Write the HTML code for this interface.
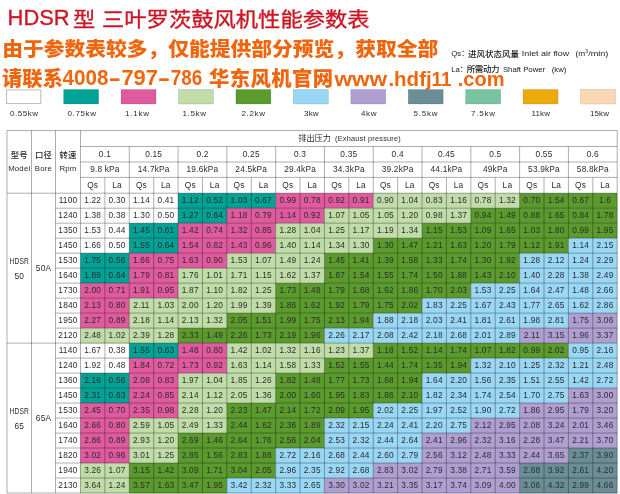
<!DOCTYPE html>
<html lang="zh-CN"><head><meta charset="utf-8"><title>HDSR 型 三叶罗茨鼓风机性能参数表</title>
<style>
html,body{margin:0;padding:0;background:#fff}
body{width:620px;height:494px;position:relative;overflow:hidden;font-family:"Liberation Sans","Noto Sans CJK SC",sans-serif}
svg{display:block}
</style></head><body>
<svg width="620" height="494" viewBox="0 0 620 494" style="position:absolute;left:0;top:0">
<g>
<rect x="178.08" y="193.2" width="97.58" height="15.29" fill="#00a295"/>
<rect x="275.66" y="193.2" width="97.58" height="15.29" fill="#df5a9e"/>
<rect x="373.25" y="193.2" width="146.37" height="15.29" fill="#c0dca8"/>
<rect x="519.62" y="193.2" width="97.58" height="15.29" fill="#5b9a2d"/>
<rect x="178.08" y="208.19" width="48.79" height="15.29" fill="#00a295"/>
<rect x="226.87" y="208.19" width="97.58" height="15.29" fill="#df5a9e"/>
<rect x="324.45" y="208.19" width="146.37" height="15.29" fill="#c0dca8"/>
<rect x="470.83" y="208.19" width="146.37" height="15.29" fill="#5b9a2d"/>
<rect x="129.29" y="223.18" width="48.79" height="15.29" fill="#00a295"/>
<rect x="178.08" y="223.18" width="97.58" height="15.29" fill="#df5a9e"/>
<rect x="275.66" y="223.18" width="146.37" height="15.29" fill="#c0dca8"/>
<rect x="422.04" y="223.18" width="195.16" height="15.29" fill="#5b9a2d"/>
<rect x="129.29" y="238.17" width="48.79" height="15.29" fill="#00a295"/>
<rect x="178.08" y="238.17" width="97.58" height="15.29" fill="#df5a9e"/>
<rect x="275.66" y="238.17" width="97.58" height="15.29" fill="#c0dca8"/>
<rect x="373.25" y="238.17" width="195.16" height="15.29" fill="#5b9a2d"/>
<rect x="568.41" y="238.17" width="48.79" height="15.29" fill="#9ad7f5"/>
<rect x="80.5" y="253.16" width="48.79" height="15.29" fill="#00a295"/>
<rect x="129.29" y="253.16" width="97.58" height="15.29" fill="#df5a9e"/>
<rect x="226.87" y="253.16" width="97.58" height="15.29" fill="#c0dca8"/>
<rect x="324.45" y="253.16" width="195.16" height="15.29" fill="#5b9a2d"/>
<rect x="519.62" y="253.16" width="97.58" height="15.29" fill="#9ad7f5"/>
<rect x="80.5" y="268.15" width="48.79" height="15.29" fill="#00a295"/>
<rect x="129.29" y="268.15" width="48.79" height="15.29" fill="#df5a9e"/>
<rect x="178.08" y="268.15" width="146.37" height="15.29" fill="#c0dca8"/>
<rect x="324.45" y="268.15" width="195.16" height="15.29" fill="#5b9a2d"/>
<rect x="519.62" y="268.15" width="97.58" height="15.29" fill="#9ad7f5"/>
<rect x="80.5" y="283.14" width="97.58" height="15.29" fill="#df5a9e"/>
<rect x="178.08" y="283.14" width="97.58" height="15.29" fill="#c0dca8"/>
<rect x="275.66" y="283.14" width="195.16" height="15.29" fill="#5b9a2d"/>
<rect x="470.83" y="283.14" width="146.37" height="15.29" fill="#9ad7f5"/>
<rect x="80.5" y="298.13" width="48.79" height="15.29" fill="#df5a9e"/>
<rect x="129.29" y="298.13" width="146.37" height="15.29" fill="#c0dca8"/>
<rect x="275.66" y="298.13" width="146.37" height="15.29" fill="#5b9a2d"/>
<rect x="422.04" y="298.13" width="195.16" height="15.29" fill="#9ad7f5"/>
<rect x="80.5" y="313.12" width="48.79" height="15.29" fill="#df5a9e"/>
<rect x="129.29" y="313.12" width="97.58" height="15.29" fill="#c0dca8"/>
<rect x="226.87" y="313.12" width="146.37" height="15.29" fill="#5b9a2d"/>
<rect x="373.25" y="313.12" width="195.16" height="15.29" fill="#9ad7f5"/>
<rect x="568.41" y="313.12" width="48.79" height="15.29" fill="#af9fd1"/>
<rect x="80.5" y="328.11" width="97.58" height="15.29" fill="#c0dca8"/>
<rect x="178.08" y="328.11" width="146.37" height="15.29" fill="#5b9a2d"/>
<rect x="324.45" y="328.11" width="195.16" height="15.29" fill="#9ad7f5"/>
<rect x="519.62" y="328.11" width="97.58" height="15.29" fill="#af9fd1"/>
<rect x="129.29" y="343.1" width="48.79" height="15.29" fill="#00a295"/>
<rect x="178.08" y="343.1" width="48.79" height="15.29" fill="#df5a9e"/>
<rect x="226.87" y="343.1" width="146.37" height="15.29" fill="#c0dca8"/>
<rect x="373.25" y="343.1" width="195.16" height="15.29" fill="#5b9a2d"/>
<rect x="568.41" y="343.1" width="48.79" height="15.29" fill="#9ad7f5"/>
<rect x="129.29" y="358.09" width="97.58" height="15.29" fill="#df5a9e"/>
<rect x="226.87" y="358.09" width="97.58" height="15.29" fill="#c0dca8"/>
<rect x="324.45" y="358.09" width="146.37" height="15.29" fill="#5b9a2d"/>
<rect x="470.83" y="358.09" width="146.37" height="15.29" fill="#9ad7f5"/>
<rect x="80.5" y="373.08" width="48.79" height="15.29" fill="#00a295"/>
<rect x="129.29" y="373.08" width="48.79" height="15.29" fill="#df5a9e"/>
<rect x="178.08" y="373.08" width="97.58" height="15.29" fill="#c0dca8"/>
<rect x="275.66" y="373.08" width="146.37" height="15.29" fill="#5b9a2d"/>
<rect x="422.04" y="373.08" width="195.16" height="15.29" fill="#9ad7f5"/>
<rect x="80.5" y="388.07" width="48.79" height="15.29" fill="#00a295"/>
<rect x="129.29" y="388.07" width="48.79" height="15.29" fill="#df5a9e"/>
<rect x="178.08" y="388.07" width="97.58" height="15.29" fill="#c0dca8"/>
<rect x="275.66" y="388.07" width="146.37" height="15.29" fill="#5b9a2d"/>
<rect x="422.04" y="388.07" width="146.37" height="15.29" fill="#9ad7f5"/>
<rect x="568.41" y="388.07" width="48.79" height="15.29" fill="#af9fd1"/>
<rect x="80.5" y="403.06" width="97.58" height="15.29" fill="#df5a9e"/>
<rect x="178.08" y="403.06" width="48.79" height="15.29" fill="#c0dca8"/>
<rect x="226.87" y="403.06" width="146.37" height="15.29" fill="#5b9a2d"/>
<rect x="373.25" y="403.06" width="146.37" height="15.29" fill="#9ad7f5"/>
<rect x="519.62" y="403.06" width="97.58" height="15.29" fill="#af9fd1"/>
<rect x="80.5" y="418.05" width="48.79" height="15.29" fill="#df5a9e"/>
<rect x="129.29" y="418.05" width="97.58" height="15.29" fill="#c0dca8"/>
<rect x="226.87" y="418.05" width="97.58" height="15.29" fill="#5b9a2d"/>
<rect x="324.45" y="418.05" width="146.37" height="15.29" fill="#9ad7f5"/>
<rect x="470.83" y="418.05" width="146.37" height="15.29" fill="#af9fd1"/>
<rect x="80.5" y="433.04" width="48.79" height="15.29" fill="#df5a9e"/>
<rect x="129.29" y="433.04" width="48.79" height="15.29" fill="#c0dca8"/>
<rect x="178.08" y="433.04" width="146.37" height="15.29" fill="#5b9a2d"/>
<rect x="324.45" y="433.04" width="97.58" height="15.29" fill="#9ad7f5"/>
<rect x="422.04" y="433.04" width="195.16" height="15.29" fill="#af9fd1"/>
<rect x="80.5" y="448.03" width="48.79" height="15.29" fill="#df5a9e"/>
<rect x="129.29" y="448.03" width="48.79" height="15.29" fill="#c0dca8"/>
<rect x="178.08" y="448.03" width="97.58" height="15.29" fill="#5b9a2d"/>
<rect x="275.66" y="448.03" width="146.37" height="15.29" fill="#9ad7f5"/>
<rect x="422.04" y="448.03" width="146.37" height="15.29" fill="#af9fd1"/>
<rect x="568.41" y="448.03" width="48.79" height="15.29" fill="#6b8d96"/>
<rect x="80.5" y="463.02" width="48.79" height="15.29" fill="#c0dca8"/>
<rect x="129.29" y="463.02" width="146.37" height="15.29" fill="#5b9a2d"/>
<rect x="275.66" y="463.02" width="97.58" height="15.29" fill="#9ad7f5"/>
<rect x="373.25" y="463.02" width="146.37" height="15.29" fill="#af9fd1"/>
<rect x="519.62" y="463.02" width="97.58" height="15.29" fill="#6b8d96"/>
<rect x="80.5" y="478.01" width="48.79" height="15.29" fill="#c0dca8"/>
<rect x="129.29" y="478.01" width="97.58" height="15.29" fill="#5b9a2d"/>
<rect x="226.87" y="478.01" width="97.58" height="15.29" fill="#9ad7f5"/>
<rect x="324.45" y="478.01" width="195.16" height="15.29" fill="#af9fd1"/>
<rect x="519.62" y="478.01" width="97.58" height="15.29" fill="#6b8d96"/>
</g>
<g stroke="#000" stroke-width="0.8" stroke-opacity="0.4" fill="none">
<path d="M7 130.5L617.2 130.5"/>
<path d="M7 493L617.2 493"/>
<path d="M7 130.5L7 493"/>
<path d="M617.2 130.5L617.2 493"/>
<path d="M31.5 130.5L31.5 493"/>
<path d="M55.5 130.5L55.5 493"/>
<path d="M80.5 130.5L80.5 493"/>
<path d="M80.5 146.5L617.2 146.5"/>
<path d="M80.5 162L617.2 162"/>
<path d="M80.5 177.4L617.2 177.4"/>
<path d="M7 193.2L617.2 193.2"/>
<path d="M129.29 146.5L129.29 493"/>
<path d="M178.08 146.5L178.08 493"/>
<path d="M226.87 146.5L226.87 493"/>
<path d="M275.66 146.5L275.66 493"/>
<path d="M324.45 146.5L324.45 493"/>
<path d="M373.25 146.5L373.25 493"/>
<path d="M422.04 146.5L422.04 493"/>
<path d="M470.83 146.5L470.83 493"/>
<path d="M519.62 146.5L519.62 493"/>
<path d="M568.41 146.5L568.41 493"/>
<path d="M104.9 177.4L104.9 493"/>
<path d="M153.69 177.4L153.69 493"/>
<path d="M202.48 177.4L202.48 493"/>
<path d="M251.27 177.4L251.27 493"/>
<path d="M300.06 177.4L300.06 493"/>
<path d="M348.85 177.4L348.85 493"/>
<path d="M397.64 177.4L397.64 493"/>
<path d="M446.43 177.4L446.43 493"/>
<path d="M495.22 177.4L495.22 493"/>
<path d="M544.01 177.4L544.01 493"/>
<path d="M592.8 177.4L592.8 493"/>
<path d="M55.5 208.19L617.2 208.19"/>
<path d="M55.5 223.18L617.2 223.18"/>
<path d="M55.5 238.17L617.2 238.17"/>
<path d="M55.5 253.16L617.2 253.16"/>
<path d="M55.5 268.15L617.2 268.15"/>
<path d="M55.5 283.14L617.2 283.14"/>
<path d="M55.5 298.13L617.2 298.13"/>
<path d="M55.5 313.12L617.2 313.12"/>
<path d="M55.5 328.11L617.2 328.11"/>
<path d="M7 343.1L617.2 343.1"/>
<path d="M55.5 358.09L617.2 358.09"/>
<path d="M55.5 373.08L617.2 373.08"/>
<path d="M55.5 388.07L617.2 388.07"/>
<path d="M55.5 403.06L617.2 403.06"/>
<path d="M55.5 418.05L617.2 418.05"/>
<path d="M55.5 433.04L617.2 433.04"/>
<path d="M55.5 448.03L617.2 448.03"/>
<path d="M55.5 463.02L617.2 463.02"/>
<path d="M55.5 478.01L617.2 478.01"/>
</g>
<g font-family="Liberation Sans, Noto Sans CJK SC, sans-serif" font-size="8.3" fill="#2b2b2b" text-anchor="middle" letter-spacing="0.2">
<text x="68" y="203.34">1100</text>
<text x="92.7" y="203.34">1.22</text>
<text x="117.09" y="203.34">0.30</text>
<text x="141.49" y="203.34">1.14</text>
<text x="165.88" y="203.34">0.41</text>
<text x="190.28" y="203.34">1.12</text>
<text x="214.68" y="203.34">0.52</text>
<text x="239.07" y="203.34">1.03</text>
<text x="263.47" y="203.34">0.67</text>
<text x="287.86" y="203.34">0.99</text>
<text x="312.26" y="203.34">0.78</text>
<text x="336.65" y="203.34">0.92</text>
<text x="361.05" y="203.34">0.91</text>
<text x="385.44" y="203.34">0.90</text>
<text x="409.84" y="203.34">1.04</text>
<text x="434.23" y="203.34">0.83</text>
<text x="458.63" y="203.34">1.16</text>
<text x="483.03" y="203.34">0.78</text>
<text x="507.42" y="203.34">1.32</text>
<text x="531.82" y="203.34">0.70</text>
<text x="556.21" y="203.34">1.54</text>
<text x="580.61" y="203.34">0.67</text>
<text x="605" y="203.34">1.6</text>
<text x="68" y="218.34">1240</text>
<text x="92.7" y="218.34">1.38</text>
<text x="117.09" y="218.34">0.38</text>
<text x="141.49" y="218.34">1.30</text>
<text x="165.88" y="218.34">0.50</text>
<text x="190.28" y="218.34">1.27</text>
<text x="214.68" y="218.34">0.64</text>
<text x="239.07" y="218.34">1.18</text>
<text x="263.47" y="218.34">0.79</text>
<text x="287.86" y="218.34">1.14</text>
<text x="312.26" y="218.34">0.92</text>
<text x="336.65" y="218.34">1.07</text>
<text x="361.05" y="218.34">1.05</text>
<text x="385.44" y="218.34">1.05</text>
<text x="409.84" y="218.34">1.20</text>
<text x="434.23" y="218.34">0.98</text>
<text x="458.63" y="218.34">1.37</text>
<text x="483.03" y="218.34">0.94</text>
<text x="507.42" y="218.34">1.49</text>
<text x="531.82" y="218.34">0.88</text>
<text x="556.21" y="218.34">1.65</text>
<text x="580.61" y="218.34">0.84</text>
<text x="605" y="218.34">1.78</text>
<text x="68" y="233.32">1350</text>
<text x="92.7" y="233.32">1.53</text>
<text x="117.09" y="233.32">0.44</text>
<text x="141.49" y="233.32">1.45</text>
<text x="165.88" y="233.32">0.61</text>
<text x="190.28" y="233.32">1.42</text>
<text x="214.68" y="233.32">0.74</text>
<text x="239.07" y="233.32">1.32</text>
<text x="263.47" y="233.32">0.85</text>
<text x="287.86" y="233.32">1.28</text>
<text x="312.26" y="233.32">1.04</text>
<text x="336.65" y="233.32">1.25</text>
<text x="361.05" y="233.32">1.17</text>
<text x="385.44" y="233.32">1.19</text>
<text x="409.84" y="233.32">1.34</text>
<text x="434.23" y="233.32">1.15</text>
<text x="458.63" y="233.32">1.53</text>
<text x="483.03" y="233.32">1.09</text>
<text x="507.42" y="233.32">1.65</text>
<text x="531.82" y="233.32">1.03</text>
<text x="556.21" y="233.32">1.80</text>
<text x="580.61" y="233.32">0.99</text>
<text x="605" y="233.32">1.95</text>
<text x="68" y="248.31">1450</text>
<text x="92.7" y="248.31">1.66</text>
<text x="117.09" y="248.31">0.50</text>
<text x="141.49" y="248.31">1.55</text>
<text x="165.88" y="248.31">0.64</text>
<text x="190.28" y="248.31">1.54</text>
<text x="214.68" y="248.31">0.82</text>
<text x="239.07" y="248.31">1.43</text>
<text x="263.47" y="248.31">0.96</text>
<text x="287.86" y="248.31">1.40</text>
<text x="312.26" y="248.31">1.14</text>
<text x="336.65" y="248.31">1.34</text>
<text x="361.05" y="248.31">1.30</text>
<text x="385.44" y="248.31">1.30</text>
<text x="409.84" y="248.31">1.47</text>
<text x="434.23" y="248.31">1.21</text>
<text x="458.63" y="248.31">1.63</text>
<text x="483.03" y="248.31">1.20</text>
<text x="507.42" y="248.31">1.79</text>
<text x="531.82" y="248.31">1.12</text>
<text x="556.21" y="248.31">1.91</text>
<text x="580.61" y="248.31">1.14</text>
<text x="605" y="248.31">2.15</text>
<text x="68" y="263.3">1530</text>
<text x="92.7" y="263.3">1.75</text>
<text x="117.09" y="263.3">0.56</text>
<text x="141.49" y="263.3">1.66</text>
<text x="165.88" y="263.3">0.75</text>
<text x="190.28" y="263.3">1.63</text>
<text x="214.68" y="263.3">0.90</text>
<text x="239.07" y="263.3">1.53</text>
<text x="263.47" y="263.3">1.07</text>
<text x="287.86" y="263.3">1.49</text>
<text x="312.26" y="263.3">1.24</text>
<text x="336.65" y="263.3">1.45</text>
<text x="361.05" y="263.3">1.41</text>
<text x="385.44" y="263.3">1.39</text>
<text x="409.84" y="263.3">1.58</text>
<text x="434.23" y="263.3">1.33</text>
<text x="458.63" y="263.3">1.74</text>
<text x="483.03" y="263.3">1.30</text>
<text x="507.42" y="263.3">1.92</text>
<text x="531.82" y="263.3">1.28</text>
<text x="556.21" y="263.3">2.12</text>
<text x="580.61" y="263.3">1.24</text>
<text x="605" y="263.3">2.29</text>
<text x="68" y="278.29">1640</text>
<text x="92.7" y="278.29">1.89</text>
<text x="117.09" y="278.29">0.64</text>
<text x="141.49" y="278.29">1.79</text>
<text x="165.88" y="278.29">0.81</text>
<text x="190.28" y="278.29">1.76</text>
<text x="214.68" y="278.29">1.01</text>
<text x="239.07" y="278.29">1.71</text>
<text x="263.47" y="278.29">1.15</text>
<text x="287.86" y="278.29">1.62</text>
<text x="312.26" y="278.29">1.37</text>
<text x="336.65" y="278.29">1.67</text>
<text x="361.05" y="278.29">1.54</text>
<text x="385.44" y="278.29">1.55</text>
<text x="409.84" y="278.29">1.74</text>
<text x="434.23" y="278.29">1.50</text>
<text x="458.63" y="278.29">1.88</text>
<text x="483.03" y="278.29">1.43</text>
<text x="507.42" y="278.29">2.10</text>
<text x="531.82" y="278.29">1.40</text>
<text x="556.21" y="278.29">2.28</text>
<text x="580.61" y="278.29">1.38</text>
<text x="605" y="278.29">2.49</text>
<text x="68" y="293.28">1730</text>
<text x="92.7" y="293.28">2.00</text>
<text x="117.09" y="293.28">0.71</text>
<text x="141.49" y="293.28">1.91</text>
<text x="165.88" y="293.28">0.95</text>
<text x="190.28" y="293.28">1.87</text>
<text x="214.68" y="293.28">1.10</text>
<text x="239.07" y="293.28">1.82</text>
<text x="263.47" y="293.28">1.25</text>
<text x="287.86" y="293.28">1.73</text>
<text x="312.26" y="293.28">1.48</text>
<text x="336.65" y="293.28">1.79</text>
<text x="361.05" y="293.28">1.68</text>
<text x="385.44" y="293.28">1.62</text>
<text x="409.84" y="293.28">1.86</text>
<text x="434.23" y="293.28">1.70</text>
<text x="458.63" y="293.28">2.03</text>
<text x="483.03" y="293.28">1.53</text>
<text x="507.42" y="293.28">2.25</text>
<text x="531.82" y="293.28">1.64</text>
<text x="556.21" y="293.28">2.47</text>
<text x="580.61" y="293.28">1.48</text>
<text x="605" y="293.28">2.66</text>
<text x="68" y="308.27">1840</text>
<text x="92.7" y="308.27">2.13</text>
<text x="117.09" y="308.27">0.80</text>
<text x="141.49" y="308.27">2.11</text>
<text x="165.88" y="308.27">1.03</text>
<text x="190.28" y="308.27">2.00</text>
<text x="214.68" y="308.27">1.20</text>
<text x="239.07" y="308.27">1.99</text>
<text x="263.47" y="308.27">1.39</text>
<text x="287.86" y="308.27">1.86</text>
<text x="312.26" y="308.27">1.62</text>
<text x="336.65" y="308.27">1.92</text>
<text x="361.05" y="308.27">1.79</text>
<text x="385.44" y="308.27">1.75</text>
<text x="409.84" y="308.27">2.02</text>
<text x="434.23" y="308.27">1.83</text>
<text x="458.63" y="308.27">2.25</text>
<text x="483.03" y="308.27">1.67</text>
<text x="507.42" y="308.27">2.43</text>
<text x="531.82" y="308.27">1.77</text>
<text x="556.21" y="308.27">2.65</text>
<text x="580.61" y="308.27">1.62</text>
<text x="605" y="308.27">2.86</text>
<text x="68" y="323.26">1950</text>
<text x="92.7" y="323.26">2.27</text>
<text x="117.09" y="323.26">0.89</text>
<text x="141.49" y="323.26">2.18</text>
<text x="165.88" y="323.26">1.14</text>
<text x="190.28" y="323.26">2.13</text>
<text x="214.68" y="323.26">1.32</text>
<text x="239.07" y="323.26">2.05</text>
<text x="263.47" y="323.26">1.51</text>
<text x="287.86" y="323.26">1.99</text>
<text x="312.26" y="323.26">1.75</text>
<text x="336.65" y="323.26">2.13</text>
<text x="361.05" y="323.26">1.94</text>
<text x="385.44" y="323.26">1.88</text>
<text x="409.84" y="323.26">2.18</text>
<text x="434.23" y="323.26">2.03</text>
<text x="458.63" y="323.26">2.41</text>
<text x="483.03" y="323.26">1.81</text>
<text x="507.42" y="323.26">2.61</text>
<text x="531.82" y="323.26">1.98</text>
<text x="556.21" y="323.26">2.81</text>
<text x="580.61" y="323.26">1.75</text>
<text x="605" y="323.26">3.06</text>
<text x="68" y="338.25">2120</text>
<text x="92.7" y="338.25">2.48</text>
<text x="117.09" y="338.25">1.02</text>
<text x="141.49" y="338.25">2.39</text>
<text x="165.88" y="338.25">1.28</text>
<text x="190.28" y="338.25">2.33</text>
<text x="214.68" y="338.25">1.49</text>
<text x="239.07" y="338.25">2.26</text>
<text x="263.47" y="338.25">1.73</text>
<text x="287.86" y="338.25">2.19</text>
<text x="312.26" y="338.25">1.96</text>
<text x="336.65" y="338.25">2.26</text>
<text x="361.05" y="338.25">2.17</text>
<text x="385.44" y="338.25">2.08</text>
<text x="409.84" y="338.25">2.42</text>
<text x="434.23" y="338.25">2.18</text>
<text x="458.63" y="338.25">2.68</text>
<text x="483.03" y="338.25">2.01</text>
<text x="507.42" y="338.25">2.89</text>
<text x="531.82" y="338.25">2.11</text>
<text x="556.21" y="338.25">3.15</text>
<text x="580.61" y="338.25">1.96</text>
<text x="605" y="338.25">3.37</text>
<text x="68" y="353.25">1140</text>
<text x="92.7" y="353.25">1.67</text>
<text x="117.09" y="353.25">0.38</text>
<text x="141.49" y="353.25">1.55</text>
<text x="165.88" y="353.25">0.63</text>
<text x="190.28" y="353.25">1.48</text>
<text x="214.68" y="353.25">0.80</text>
<text x="239.07" y="353.25">1.42</text>
<text x="263.47" y="353.25">1.02</text>
<text x="287.86" y="353.25">1.32</text>
<text x="312.26" y="353.25">1.16</text>
<text x="336.65" y="353.25">1.23</text>
<text x="361.05" y="353.25">1.37</text>
<text x="385.44" y="353.25">1.18</text>
<text x="409.84" y="353.25">1.52</text>
<text x="434.23" y="353.25">1.14</text>
<text x="458.63" y="353.25">1.74</text>
<text x="483.03" y="353.25">1.07</text>
<text x="507.42" y="353.25">1.82</text>
<text x="531.82" y="353.25">0.99</text>
<text x="556.21" y="353.25">2.02</text>
<text x="580.61" y="353.25">0.95</text>
<text x="605" y="353.25">2.16</text>
<text x="68" y="368.24">1240</text>
<text x="92.7" y="368.24">1.92</text>
<text x="117.09" y="368.24">0.48</text>
<text x="141.49" y="368.24">1.84</text>
<text x="165.88" y="368.24">0.72</text>
<text x="190.28" y="368.24">1.73</text>
<text x="214.68" y="368.24">0.92</text>
<text x="239.07" y="368.24">1.63</text>
<text x="263.47" y="368.24">1.14</text>
<text x="287.86" y="368.24">1.58</text>
<text x="312.26" y="368.24">1.33</text>
<text x="336.65" y="368.24">1.52</text>
<text x="361.05" y="368.24">1.55</text>
<text x="385.44" y="368.24">1.44</text>
<text x="409.84" y="368.24">1.74</text>
<text x="434.23" y="368.24">1.35</text>
<text x="458.63" y="368.24">1.94</text>
<text x="483.03" y="368.24">1.32</text>
<text x="507.42" y="368.24">2.10</text>
<text x="531.82" y="368.24">1.25</text>
<text x="556.21" y="368.24">2.32</text>
<text x="580.61" y="368.24">1.21</text>
<text x="605" y="368.24">2.48</text>
<text x="68" y="383.22">1360</text>
<text x="92.7" y="383.22">2.16</text>
<text x="117.09" y="383.22">0.56</text>
<text x="141.49" y="383.22">2.08</text>
<text x="165.88" y="383.22">0.83</text>
<text x="190.28" y="383.22">1.97</text>
<text x="214.68" y="383.22">1.04</text>
<text x="239.07" y="383.22">1.85</text>
<text x="263.47" y="383.22">1.26</text>
<text x="287.86" y="383.22">1.82</text>
<text x="312.26" y="383.22">1.48</text>
<text x="336.65" y="383.22">1.77</text>
<text x="361.05" y="383.22">1.73</text>
<text x="385.44" y="383.22">1.68</text>
<text x="409.84" y="383.22">1.94</text>
<text x="434.23" y="383.22">1.64</text>
<text x="458.63" y="383.22">2.20</text>
<text x="483.03" y="383.22">1.56</text>
<text x="507.42" y="383.22">2.35</text>
<text x="531.82" y="383.22">1.51</text>
<text x="556.21" y="383.22">2.55</text>
<text x="580.61" y="383.22">1.42</text>
<text x="605" y="383.22">2.72</text>
<text x="68" y="398.21">1450</text>
<text x="92.7" y="398.21">2.31</text>
<text x="117.09" y="398.21">0.63</text>
<text x="141.49" y="398.21">2.24</text>
<text x="165.88" y="398.21">0.85</text>
<text x="190.28" y="398.21">2.14</text>
<text x="214.68" y="398.21">1.12</text>
<text x="239.07" y="398.21">2.05</text>
<text x="263.47" y="398.21">1.36</text>
<text x="287.86" y="398.21">2.00</text>
<text x="312.26" y="398.21">1.60</text>
<text x="336.65" y="398.21">1.95</text>
<text x="361.05" y="398.21">1.83</text>
<text x="385.44" y="398.21">1.86</text>
<text x="409.84" y="398.21">2.10</text>
<text x="434.23" y="398.21">1.82</text>
<text x="458.63" y="398.21">2.34</text>
<text x="483.03" y="398.21">1.74</text>
<text x="507.42" y="398.21">2.54</text>
<text x="531.82" y="398.21">1.70</text>
<text x="556.21" y="398.21">2.75</text>
<text x="580.61" y="398.21">1.63</text>
<text x="605" y="398.21">3.00</text>
<text x="68" y="413.2">1530</text>
<text x="92.7" y="413.2">2.45</text>
<text x="117.09" y="413.2">0.70</text>
<text x="141.49" y="413.2">2.35</text>
<text x="165.88" y="413.2">0.98</text>
<text x="190.28" y="413.2">2.28</text>
<text x="214.68" y="413.2">1.20</text>
<text x="239.07" y="413.2">2.23</text>
<text x="263.47" y="413.2">1.47</text>
<text x="287.86" y="413.2">2.14</text>
<text x="312.26" y="413.2">1.72</text>
<text x="336.65" y="413.2">2.09</text>
<text x="361.05" y="413.2">1.95</text>
<text x="385.44" y="413.2">2.02</text>
<text x="409.84" y="413.2">2.25</text>
<text x="434.23" y="413.2">1.97</text>
<text x="458.63" y="413.2">2.52</text>
<text x="483.03" y="413.2">1.90</text>
<text x="507.42" y="413.2">2.72</text>
<text x="531.82" y="413.2">1.86</text>
<text x="556.21" y="413.2">2.95</text>
<text x="580.61" y="413.2">1.79</text>
<text x="605" y="413.2">3.20</text>
<text x="68" y="428.19">1640</text>
<text x="92.7" y="428.19">2.66</text>
<text x="117.09" y="428.19">0.80</text>
<text x="141.49" y="428.19">2.59</text>
<text x="165.88" y="428.19">1.05</text>
<text x="190.28" y="428.19">2.49</text>
<text x="214.68" y="428.19">1.33</text>
<text x="239.07" y="428.19">2.44</text>
<text x="263.47" y="428.19">1.62</text>
<text x="287.86" y="428.19">2.36</text>
<text x="312.26" y="428.19">1.89</text>
<text x="336.65" y="428.19">2.32</text>
<text x="361.05" y="428.19">2.15</text>
<text x="385.44" y="428.19">2.24</text>
<text x="409.84" y="428.19">2.41</text>
<text x="434.23" y="428.19">2.20</text>
<text x="458.63" y="428.19">2.75</text>
<text x="483.03" y="428.19">2.12</text>
<text x="507.42" y="428.19">2.95</text>
<text x="531.82" y="428.19">2.08</text>
<text x="556.21" y="428.19">3.24</text>
<text x="580.61" y="428.19">2.01</text>
<text x="605" y="428.19">3.46</text>
<text x="68" y="443.18">1740</text>
<text x="92.7" y="443.18">2.86</text>
<text x="117.09" y="443.18">0.89</text>
<text x="141.49" y="443.18">2.93</text>
<text x="165.88" y="443.18">1.20</text>
<text x="190.28" y="443.18">2.69</text>
<text x="214.68" y="443.18">1.46</text>
<text x="239.07" y="443.18">2.64</text>
<text x="263.47" y="443.18">1.76</text>
<text x="287.86" y="443.18">2.56</text>
<text x="312.26" y="443.18">2.04</text>
<text x="336.65" y="443.18">2.53</text>
<text x="361.05" y="443.18">2.32</text>
<text x="385.44" y="443.18">2.44</text>
<text x="409.84" y="443.18">2.64</text>
<text x="434.23" y="443.18">2.41</text>
<text x="458.63" y="443.18">2.96</text>
<text x="483.03" y="443.18">2.32</text>
<text x="507.42" y="443.18">3.16</text>
<text x="531.82" y="443.18">2.28</text>
<text x="556.21" y="443.18">3.47</text>
<text x="580.61" y="443.18">2.21</text>
<text x="605" y="443.18">3.70</text>
<text x="68" y="458.17">1820</text>
<text x="92.7" y="458.17">3.02</text>
<text x="117.09" y="458.17">0.96</text>
<text x="141.49" y="458.17">3.01</text>
<text x="165.88" y="458.17">1.25</text>
<text x="190.28" y="458.17">2.85</text>
<text x="214.68" y="458.17">1.56</text>
<text x="239.07" y="458.17">2.83</text>
<text x="263.47" y="458.17">1.88</text>
<text x="287.86" y="458.17">2.72</text>
<text x="312.26" y="458.17">2.16</text>
<text x="336.65" y="458.17">2.68</text>
<text x="361.05" y="458.17">2.44</text>
<text x="385.44" y="458.17">2.60</text>
<text x="409.84" y="458.17">2.79</text>
<text x="434.23" y="458.17">2.56</text>
<text x="458.63" y="458.17">3.12</text>
<text x="483.03" y="458.17">2.48</text>
<text x="507.42" y="458.17">3.33</text>
<text x="531.82" y="458.17">2.44</text>
<text x="556.21" y="458.17">3.65</text>
<text x="580.61" y="458.17">2.37</text>
<text x="605" y="458.17">3.90</text>
<text x="68" y="473.16">1940</text>
<text x="92.7" y="473.16">3.26</text>
<text x="117.09" y="473.16">1.07</text>
<text x="141.49" y="473.16">3.15</text>
<text x="165.88" y="473.16">1.42</text>
<text x="190.28" y="473.16">3.09</text>
<text x="214.68" y="473.16">1.71</text>
<text x="239.07" y="473.16">3.04</text>
<text x="263.47" y="473.16">2.05</text>
<text x="287.86" y="473.16">2.96</text>
<text x="312.26" y="473.16">2.35</text>
<text x="336.65" y="473.16">2.92</text>
<text x="361.05" y="473.16">2.68</text>
<text x="385.44" y="473.16">2.83</text>
<text x="409.84" y="473.16">3.02</text>
<text x="434.23" y="473.16">2.79</text>
<text x="458.63" y="473.16">3.38</text>
<text x="483.03" y="473.16">2.71</text>
<text x="507.42" y="473.16">3.59</text>
<text x="531.82" y="473.16">2.68</text>
<text x="556.21" y="473.16">3.92</text>
<text x="580.61" y="473.16">2.61</text>
<text x="605" y="473.16">4.20</text>
<text x="68" y="488.15">2130</text>
<text x="92.7" y="488.15">3.64</text>
<text x="117.09" y="488.15">1.24</text>
<text x="141.49" y="488.15">3.57</text>
<text x="165.88" y="488.15">1.63</text>
<text x="190.28" y="488.15">3.47</text>
<text x="214.68" y="488.15">1.95</text>
<text x="239.07" y="488.15">3.42</text>
<text x="263.47" y="488.15">2.32</text>
<text x="287.86" y="488.15">3.33</text>
<text x="312.26" y="488.15">2.65</text>
<text x="336.65" y="488.15">3.30</text>
<text x="361.05" y="488.15">3.02</text>
<text x="385.44" y="488.15">3.21</text>
<text x="409.84" y="488.15">3.35</text>
<text x="434.23" y="488.15">3.17</text>
<text x="458.63" y="488.15">3.74</text>
<text x="483.03" y="488.15">3.09</text>
<text x="507.42" y="488.15">4.00</text>
<text x="531.82" y="488.15">3.06</text>
<text x="556.21" y="488.15">4.32</text>
<text x="580.61" y="488.15">2.99</text>
<text x="605" y="488.15">4.66</text>
<text x="104.9" y="156.9">0.1</text>
<text x="104.9" y="171.95" font-size="8.3">9.8 kPa</text>
<text x="92.7" y="187.65" font-size="8.3">Qs</text>
<text x="117.09" y="187.65" font-size="8.3">La</text>
<text x="153.69" y="156.9">0.15</text>
<text x="153.69" y="171.95" font-size="8.3">14.7kPa</text>
<text x="141.49" y="187.65" font-size="8.3">Qs</text>
<text x="165.88" y="187.65" font-size="8.3">La</text>
<text x="202.48" y="156.9">0.2</text>
<text x="202.48" y="171.95" font-size="8.3">19.6kPa</text>
<text x="190.28" y="187.65" font-size="8.3">Qs</text>
<text x="214.68" y="187.65" font-size="8.3">La</text>
<text x="251.27" y="156.9">0.25</text>
<text x="251.27" y="171.95" font-size="8.3">24.5kPa</text>
<text x="239.07" y="187.65" font-size="8.3">Qs</text>
<text x="263.47" y="187.65" font-size="8.3">La</text>
<text x="300.06" y="156.9">0.3</text>
<text x="300.06" y="171.95" font-size="8.3">29.4kPa</text>
<text x="287.86" y="187.65" font-size="8.3">Qs</text>
<text x="312.26" y="187.65" font-size="8.3">La</text>
<text x="348.85" y="156.9">0.35</text>
<text x="348.85" y="171.95" font-size="8.3">34.3kPa</text>
<text x="336.65" y="187.65" font-size="8.3">Qs</text>
<text x="361.05" y="187.65" font-size="8.3">La</text>
<text x="397.64" y="156.9">0.4</text>
<text x="397.64" y="171.95" font-size="8.3">39.2kPa</text>
<text x="385.44" y="187.65" font-size="8.3">Qs</text>
<text x="409.84" y="187.65" font-size="8.3">La</text>
<text x="446.43" y="156.9">0.45</text>
<text x="446.43" y="171.95" font-size="8.3">44.1kPa</text>
<text x="434.23" y="187.65" font-size="8.3">Qs</text>
<text x="458.63" y="187.65" font-size="8.3">La</text>
<text x="495.22" y="156.9">0.5</text>
<text x="495.22" y="171.95" font-size="8.3">49kPa</text>
<text x="483.03" y="187.65" font-size="8.3">Qs</text>
<text x="507.42" y="187.65" font-size="8.3">La</text>
<text x="544.01" y="156.9">0.55</text>
<text x="544.01" y="171.95" font-size="8.3">53.9kPa</text>
<text x="531.82" y="187.65" font-size="8.3">Qs</text>
<text x="556.21" y="187.65" font-size="8.3">La</text>
<text x="592.8" y="156.9">0.6</text>
<text x="592.8" y="171.95" font-size="8.3">58.8kPa</text>
<text x="580.61" y="187.65" font-size="8.3">Qs</text>
<text x="605" y="187.65" font-size="8.3">La</text>
<text x="298.2" y="141.15" font-size="8.2" text-anchor="start" textLength="33" lengthAdjust="spacing">排出压力</text>
<text x="335" y="140.85" font-size="7.4" text-anchor="start" textLength="66" lengthAdjust="spacingAndGlyphs">(Exhaust pressure)</text>
<text x="19.25" y="157.5" font-weight="500" font-size="8.4">型号</text>
<text x="43.5" y="157.5" font-weight="500" font-size="8.4">口径</text>
<text x="68" y="157.5" font-weight="500" font-size="8.4">转速</text>
<text x="19.25" y="171.3" font-size="7.8">Model</text>
<text x="43.5" y="171.3" font-size="7.8">Bore</text>
<text x="68" y="171.3" font-size="7.8">Rpm</text>
<text x="19.25" y="264.2" font-size="8.4" textLength="19.6" lengthAdjust="spacingAndGlyphs">HDSR</text>
<text x="19.25" y="278.5">50</text>
<text x="43.5" y="271.2">50A</text>
<text x="19.25" y="414.2" font-size="8.4" textLength="19.6" lengthAdjust="spacingAndGlyphs">HDSR</text>
<text x="19.25" y="428.5">65</text>
<text x="43.5" y="421.2">65A</text>
</g>
<g stroke="#000" stroke-opacity="0.18" stroke-width="0.6">
<rect x="6.6" y="89.9" width="34.2" height="13.7" fill="#fff" stroke-opacity="0.3" stroke-width="0.9"/>
<rect x="63.63" y="89.5" width="35" height="14.5" fill="#00a295"/>
<rect x="121.06" y="89.5" width="35" height="14.5" fill="#df5a9e"/>
<rect x="178.49" y="89.5" width="35" height="14.5" fill="#c0dca8"/>
<rect x="235.92" y="89.5" width="35" height="14.5" fill="#5b9a2d"/>
<rect x="293.35" y="89.5" width="35" height="14.5" fill="#9ad7f5"/>
<rect x="350.78" y="89.5" width="35" height="14.5" fill="#af9fd1"/>
<rect x="408.21" y="89.5" width="35" height="14.5" fill="#6b8d96"/>
<rect x="465.64" y="89.5" width="35" height="14.5" fill="#78c4a0"/>
<rect x="523.07" y="89.5" width="35" height="14.5" fill="#ecab0a"/>
<rect x="580.5" y="89.5" width="35" height="14.5" fill="#fcd7b3"/>
</g>
<g font-family="Liberation Sans, Noto Sans CJK SC, sans-serif" font-size="8" fill="#2b2b2b" text-anchor="middle">
<text x="24" y="116" textLength="28" lengthAdjust="spacing">0.55kw</text>
<text x="81.75" y="116" textLength="28.5" lengthAdjust="spacing">0.75kw</text>
<text x="137" y="116" textLength="24" lengthAdjust="spacing">1.1kw</text>
<text x="194.25" y="116" textLength="23.5" lengthAdjust="spacing">1.5kw</text>
<text x="253.25" y="116" textLength="23.5" lengthAdjust="spacing">2.2kw</text>
<text x="311.3" y="116" textLength="14.5" lengthAdjust="spacing">3kw</text>
<text x="368.75" y="116" textLength="15.5" lengthAdjust="spacing">4kw</text>
<text x="425.5" y="116" textLength="24" lengthAdjust="spacing">5.5kw</text>
<text x="483" y="116" textLength="24" lengthAdjust="spacing">7.5kw</text>
<text x="540.75" y="116" textLength="18.5" lengthAdjust="spacing">11kw</text>
<text x="599.5" y="116" textLength="19" lengthAdjust="spacing">15kw</text>
</g>
<g font-family="Liberation Sans, Noto Sans CJK SC, sans-serif" fill="#1a1a1a" font-size="7.8">
<text><tspan x="451.2" y="56.3">Qs：</tspan><tspan x="468.1" y="56.9" font-size="8.5" textLength="51" lengthAdjust="spacing" font-weight="500">进风状态风量</tspan><tspan x="519.5" y="56.3"> </tspan><tspan x="521.8" y="56.3" textLength="47.4" lengthAdjust="spacingAndGlyphs">Inlet air flow</tspan><tspan x="572" y="56.3"> </tspan><tspan x="575.4" y="56.3" textLength="9.6" lengthAdjust="spacingAndGlyphs">(m</tspan><tspan x="585.2" y="53.3" font-size="5">3</tspan><tspan x="588.2" y="56.3" textLength="20.2" lengthAdjust="spacingAndGlyphs">/min)</tspan></text>
<text><tspan x="451.2" y="71.5">La：</tspan><tspan x="466.7" y="72.1" font-size="8.5" textLength="32.8" lengthAdjust="spacing" font-weight="500">所需动力</tspan><tspan x="500" y="71.5"> </tspan><tspan x="502.9" y="71.5" textLength="42.3" lengthAdjust="spacingAndGlyphs">Shaft Power</tspan><tspan x="548" y="71.5"> </tspan><tspan x="551.7" y="71.5">(kw)</tspan></text>
</g>
<g font-family="Liberation Sans, Noto Sans CJK SC, sans-serif" fill="#cc1624" stroke="#cc1624" stroke-width="0.35" font-weight="400">
<text><tspan x="7.6" y="25.2" font-size="22.8" textLength="62" lengthAdjust="spacingAndGlyphs">HDSR</tspan><tspan x="69" y="25.2" font-size="10"> </tspan><tspan x="73" y="27.3" font-size="20.3" textLength="22.3" lengthAdjust="spacingAndGlyphs">型</tspan><tspan x="97" y="25.2" font-size="10"> </tspan><tspan x="102" y="27.3" font-size="20.3" textLength="267.6" lengthAdjust="spacingAndGlyphs">三叶罗茨鼓风机性能参数表</tspan></text>
</g>
<g font-family="Liberation Sans, Noto Sans CJK SC, sans-serif" font-weight="900" fill="#f0660e">
<text x="2.2" y="56.4" font-size="19.8" textLength="436" lengthAdjust="spacingAndGlyphs">由于参数表较多，仅能提供部分预览，获取全部</text>
<text><tspan x="2" y="85.8" font-size="20.3" textLength="61" lengthAdjust="spacing">请联系</tspan><tspan x="62.5" y="85" font-size="21.2" textLength="46" lengthAdjust="spacingAndGlyphs" font-weight="bold">4008</tspan><tspan x="108.6" y="85" font-size="21.2" textLength="12.5" lengthAdjust="spacingAndGlyphs" font-weight="bold">-</tspan><tspan x="121.4" y="85" font-size="21.2" textLength="36.6" lengthAdjust="spacingAndGlyphs" font-weight="bold">797</tspan><tspan x="157.8" y="85" font-size="21.2" textLength="12.5" lengthAdjust="spacingAndGlyphs" font-weight="bold">-</tspan><tspan x="170.8" y="85" font-size="21.2" textLength="31.5" lengthAdjust="spacingAndGlyphs" font-weight="bold">786</tspan><tspan x="203" y="85" font-size="10"> </tspan><tspan x="209" y="85.8" font-size="20.3" textLength="124" lengthAdjust="spacing">华东风机官网</tspan><tspan x="334.4" y="85.6" font-size="20" textLength="52.8" lengthAdjust="spacingAndGlyphs" font-weight="bold">www</tspan><tspan x="388.4" y="85.6" font-size="20" textLength="43.3" lengthAdjust="spacingAndGlyphs" font-weight="bold">.hdfj</tspan><tspan x="431.6" y="85.6" font-size="20" textLength="20" lengthAdjust="spacingAndGlyphs" font-weight="bold">11</tspan><tspan x="457.8" y="85.6" font-size="20" textLength="46.8" lengthAdjust="spacingAndGlyphs" font-weight="bold">.com</tspan></text>
</g>
</svg>
</body></html>
